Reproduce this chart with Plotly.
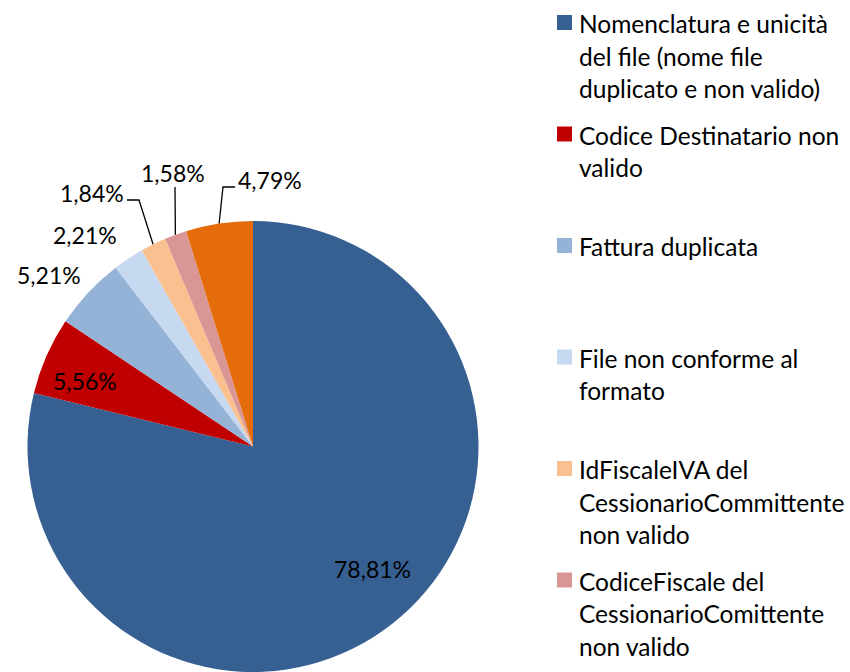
import math
import plotly.graph_objects as go

# ---- data ----
categories = [
    "Nomenclatura e unicità del file (nome file duplicato e non valido)",
    "Codice Destinatario non valido",
    "Fattura duplicata",
    "File non conforme al formato",
    "IdFiscaleIVA del CessionarioCommittente non valido",
    "CodiceFiscale del CessionarioComittente non valido",
    "Altro",
]
values = [78.81, 5.56, 5.21, 2.21, 1.84, 1.58, 4.79]
colors = ["#376092", "#C00000", "#95B3D7", "#C6D9F1", "#FAC090", "#D99694", "#E46C0A"]

# legend text lines (as shown in the reference, wrapped)
legend_lines = [
    ["Nomenclatura e unicità", "del file (nome file", "duplicato e non valido)"],
    ["Codice Destinatario non", "valido"],
    ["Fattura duplicata"],
    ["File non conforme al", "formato"],
    ["IdFiscaleIVA del", "CessionarioCommittente", "non valido"],
    ["CodiceFiscale del", "CessionarioComittente", "non valido"],
]

# ---- layout constants (pixels) ----
W, H = 850, 672
CX, CY, R = 253, 447, 226
FONT = "Lato"
FS_LABEL = 23
FS_LEG = 24.5

def px(x):
    return x / W

def py(y):
    return 1 - y / H

# data-label placement (label center x, y, elbow x or None for no leader line)
label_pos = [
    (372, 569, None),
    (85, 381, None),
    (49, 275, None),
    (85, 235, None),
    (92, 193, 139),
    (173, 173, 175),
    (270, 180, 223),
]
label_half_w = 33

fig = go.Figure()
fig.add_trace(go.Pie(
    labels=categories,
    values=values,
    sort=False,
    direction="clockwise",
    rotation=0,
    marker=dict(colors=colors, line=dict(width=0)),
    textinfo="none",
    showlegend=False,
    hoverinfo="label+value",
    domain=dict(x=[px(CX - R), px(CX + R)], y=[max(0, py(CY + R)), py(CY - R)]),
))

total = sum(values)
cum = 0.0
annotations = []
shapes = []
for i, v in enumerate(values):
    mid = (cum + v / 2) / total * 2 * math.pi
    cum += v
    lx, ly, ex = label_pos[i]
    txt = f"{v:.2f}".replace(".", ",") + "%"
    annotations.append(dict(
        x=px(lx), y=py(ly), xref="paper", yref="paper", text=txt, showarrow=False,
        xanchor="center", yanchor="middle",
        font=dict(family=FONT, size=FS_LABEL, color="black"),
    ))
    if ex is not None:
        edge_x = CX + R * math.sin(mid)
        edge_y = CY - R * math.cos(mid)
        if abs(ex - lx) < 5:
            path = f"M {px(ex)},{py(ly + 14)} L {px(edge_x)},{py(edge_y)}"
        else:
            start_x = lx - label_half_w - 2 if ex < lx else lx + label_half_w + 2
            sy = ly + 7
            path = f"M {px(start_x)},{py(sy)} L {px(ex)},{py(sy)} L {px(edge_x)},{py(edge_y)}"
        shapes.append(dict(type="path", xref="paper", yref="paper", path=path,
                           line=dict(color="black", width=1.3)))

# custom legend (first six categories, as visible in the reference)
LEG_X_SQ = 557
LEG_X_TXT = 579
LEG_Y0 = 22.5
LEG_STEP = 111.5
LINE_H = 32.5
for i, lines in enumerate(legend_lines):
    y0 = LEG_Y0 + i * LEG_STEP
    shapes.append(dict(type="rect", xref="paper", yref="paper",
                       x0=px(LEG_X_SQ), x1=px(LEG_X_SQ + 15),
                       y0=py(y0 - 7.5), y1=py(y0 + 7.5),
                       fillcolor=colors[i], line=dict(width=0)))
    for j, line in enumerate(lines):
        annotations.append(dict(
            x=px(LEG_X_TXT - 2), y=py(y0 + j * LINE_H + 1), xref="paper", yref="paper",
            text=line, showarrow=False, xanchor="left", yanchor="middle",
            font=dict(family=FONT, size=FS_LEG, color="black"),
        ))

fig.update_layout(
    width=W, height=H,
    margin=dict(l=0, r=0, t=0, b=0),
    paper_bgcolor="white",
    plot_bgcolor="white",
    separators=",.",
    annotations=annotations,
    shapes=shapes,
)

fig.write_html(
    "out.html",
    config={"displayModeBar": False},
    post_script="document.body.style.margin='0';document.body.style.overflow='hidden';",
)
